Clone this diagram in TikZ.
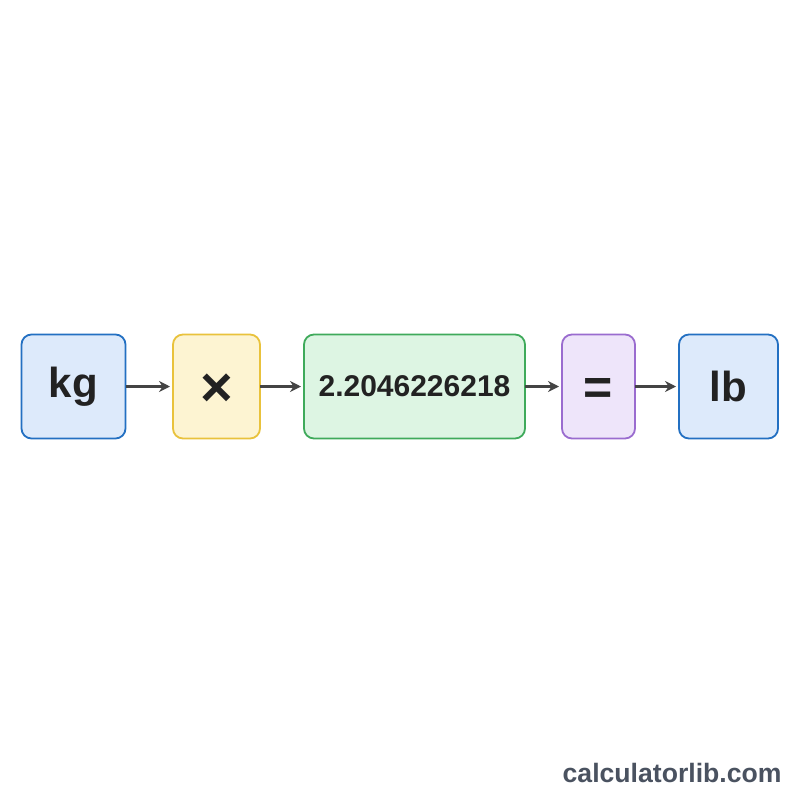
\documentclass[tikz,border=0pt]{standalone}
\usepackage{fontspec}
\setmainfont{Liberation Sans}
\usetikzlibrary{positioning,arrows.meta}
\definecolor{blueline}{HTML}{2370C2}
\definecolor{bluefill}{HTML}{DDEAFB}
\definecolor{yellowline}{HTML}{E9C23C}
\definecolor{yellowfill}{HTML}{FDF4D2}
\definecolor{greenline}{HTML}{3FAA5B}
\definecolor{greenfill}{HTML}{DDF5E3}
\definecolor{purpleline}{HTML}{9A6CCF}
\definecolor{purplefill}{HTML}{EEE5FA}
\definecolor{textdark}{HTML}{222222}
\definecolor{arrowgray}{HTML}{444444}
\definecolor{footgray}{HTML}{4A5260}

\begin{document}
\begin{tikzpicture}[x=1pt,y=-1pt,
    box/.style={draw,line width=1.8pt,rounded corners=10pt,minimum height=104pt,
        inner sep=0pt,outer sep=0pt,text=textdark,font=\fontsize{42}{42}\selectfont\bfseries},
    unitbox/.style={box,draw=blueline,fill=bluefill},
    flow/.style={-{Stealth[length=11pt,width=11pt]},line width=2.4pt,draw=arrowgray,shorten >=3pt}]
\useasboundingbox[fill=white] (0,0) rectangle (800,800);
\node[unitbox,minimum width=104pt] (kg) at (73.5,386.5) {kg};
\node[box,draw=yellowline,fill=yellowfill,minimum width=87pt,right=47.5pt of kg,
    font=\fontsize{56}{56}\selectfont\bfseries] (times) {\raisebox{-20pt}[0pt][0pt]{×}};
\node[box,draw=greenline,fill=greenfill,minimum width=221pt,right=44pt of times,
    font=\fontsize{30}{30}\selectfont\bfseries] (factor) {2.2046226218};
\node[box,draw=purpleline,fill=purplefill,minimum width=73pt,right=37pt of factor,
    font=\fontsize{50}{50}\selectfont\bfseries] (equals) {\raisebox{-18pt}[0pt][0pt]{=}};
\node[unitbox,minimum width=99pt,right=44pt of equals] (lb) {lb};
\draw[flow] (kg) -- (times);
\draw[flow] (times) -- (factor);
\draw[flow] (factor) -- (equals);
\draw[flow] (equals) -- (lb);
\node[anchor=east,text=footgray,font=\fontsize{26.6}{26.6}\selectfont\bfseries] (site) at (785,773) {calculatorlib.com};
\end{tikzpicture}
\end{document}
